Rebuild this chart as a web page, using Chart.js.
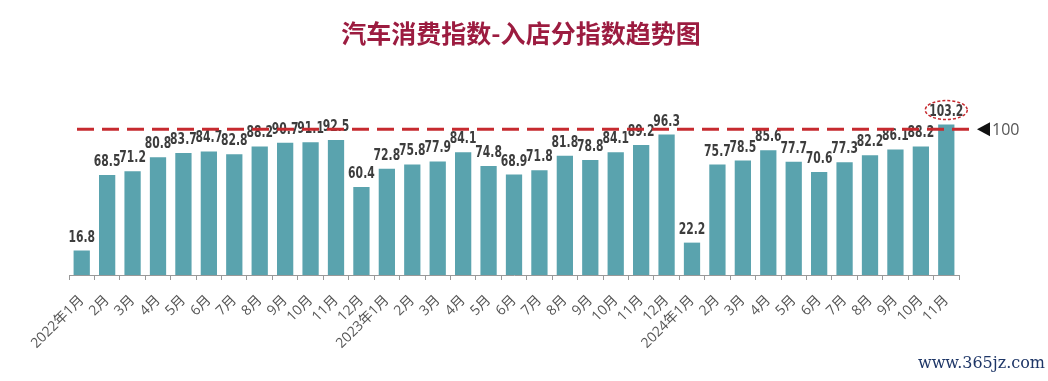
<!DOCTYPE html>
<html>
<head>
<meta charset="utf-8">
<script src="https://cdn.jsdelivr.net/npm/chart.js@4/dist/chart.umd.min.js"></script>
<style>
  html, body { margin: 0; padding: 0; background: #ffffff; }
  #wrap { width: 1048px; height: 381px; }
</style>
</head>
<body>
<div id="wrap"><canvas id="c" width="1048" height="381"></canvas></div>
<script>
const title = '汽车消费指数-入店分指数趋势图';
const categories = [
  '2022年1月','2月','3月','4月','5月','6月','7月','8月','9月','10月','11月','12月',
  '2023年1月','2月','3月','4月','5月','6月','7月','8月','9月','10月','11月','12月',
  '2024年1月','2月','3月','4月','5月','6月','7月','8月','9月','10月','11月'
];
const values2022 = [16.8, 68.5, 71.2, 80.8, 83.7, 84.7, 82.8, 88.2, 90.7, 91.1, 92.5, 60.4];
const values2023 = [72.8, 75.8, 77.9, 84.1, 74.8, 68.9, 71.8, 81.8, 78.8, 84.1, 89.2, 96.3];
const values2024 = [22.2, 75.7, 78.5, 85.6, 77.7, 70.6, 77.3, 82.2, 86.1, 88.2, 103.2];
const values = values2022.concat(values2023, values2024);
const referenceValue = 100;
const referenceLabel = '100';
const highlightIndex = values.length - 1;
const watermark = 'www.365jz.com';

const decorPlugin = {
  id: 'decor',
  afterDatasetsDraw(chart) {
    const ctx = chart.ctx;
    const meta = chart.getDatasetMeta(0);
    const area = chart.chartArea;
    ctx.save();
    // value labels (condensed bold)
    ctx.fillStyle = '#3d3d3d';
    ctx.font = 'bold 15px "DejaVu Sans Condensed", "DejaVu Sans", sans-serif';
    ctx.textAlign = 'center';
    ctx.textBaseline = 'alphabetic';
    meta.data.forEach((bar, i) => {
      ctx.save();
      ctx.translate(bar.x, bar.y - 9);
      ctx.scale(0.8, 1.05);
      ctx.fillText(values[i].toFixed(1), 0, 0);
      ctx.restore();
    });
    // reference line
    const y = chart.scales.y.getPixelForValue(referenceValue);
    ctx.strokeStyle = '#c62a2f';
    ctx.lineWidth = 3;
    ctx.setLineDash([17, 8]);
    ctx.beginPath();
    ctx.moveTo(area.left + 8, y);
    ctx.lineTo(area.right + 18, y);
    ctx.stroke();
    ctx.setLineDash([]);
    // triangle marker
    const tx = area.right + 18;
    ctx.fillStyle = '#111111';
    ctx.beginPath();
    ctx.moveTo(tx, y);
    ctx.lineTo(tx + 13, y - 7);
    ctx.lineTo(tx + 13, y + 7);
    ctx.closePath();
    ctx.fill();
    ctx.fillStyle = '#555555';
    ctx.font = '16px "Open Sans", "Noto Sans", sans-serif';
    ctx.textAlign = 'left';
    ctx.textBaseline = 'middle';
    ctx.fillText(referenceLabel, tx + 15, y + 1);
    // highlight ellipse
    const hb = meta.data[highlightIndex];
    ctx.strokeStyle = '#c62a2f';
    ctx.lineWidth = 1.5;
    ctx.setLineDash([3, 2]);
    ctx.beginPath();
    ctx.ellipse(hb.x, hb.y - 14.5, 21, 9.5, 0, 0, Math.PI * 2);
    ctx.stroke();
    ctx.setLineDash([]);
    // title
    ctx.fillStyle = '#9c1c40';
    ctx.font = 'bold 25px "Noto Sans CJK SC", sans-serif';
    ctx.textAlign = 'center';
    ctx.textBaseline = 'middle';
    ctx.fillText(title, 521, 33);
    // watermark
    ctx.fillStyle = '#1d3566';
    ctx.font = '16px "DejaVu Serif", serif';
    ctx.textAlign = 'right';
    ctx.textBaseline = 'middle';
    ctx.fillText(watermark, 1045, 364);
    ctx.restore();
  }
};

new Chart(document.getElementById('c'), {
  type: 'bar',
  data: {
    labels: categories,
    datasets: [{
      data: values,
      backgroundColor: '#5aa3ae',
      borderWidth: 0,
      barPercentage: 0.8,
      categoryPercentage: 0.8
    }]
  },
  options: {
    responsive: false,
    animation: false,
    layout: { padding: { top: 100, left: 69, right: 89, bottom: 0 } },
    plugins: { legend: { display: false }, tooltip: { enabled: false }, title: { display: false } },
    scales: {
      x: {
        offset: true,
        afterFit(scale) { scale.height = 106; },
        grid: {
          offset: true,
          drawOnChartArea: false,
          drawTicks: true,
          tickLength: 5,
          color: '#999999'
        },
        border: { display: true, color: '#999999', width: 1 },
        ticks: {
          autoSkip: false,
          minRotation: 45,
          maxRotation: 45,
          padding: 12,
          color: '#555555',
          font: { size: 14, family: '"Open Sans", "Noto Sans CJK SC", sans-serif' }
        }
      },
      y: {
        display: false,
        min: 0,
        max: 120
      }
    }
  },
  plugins: [decorPlugin]
});
</script>
</body>
</html>
